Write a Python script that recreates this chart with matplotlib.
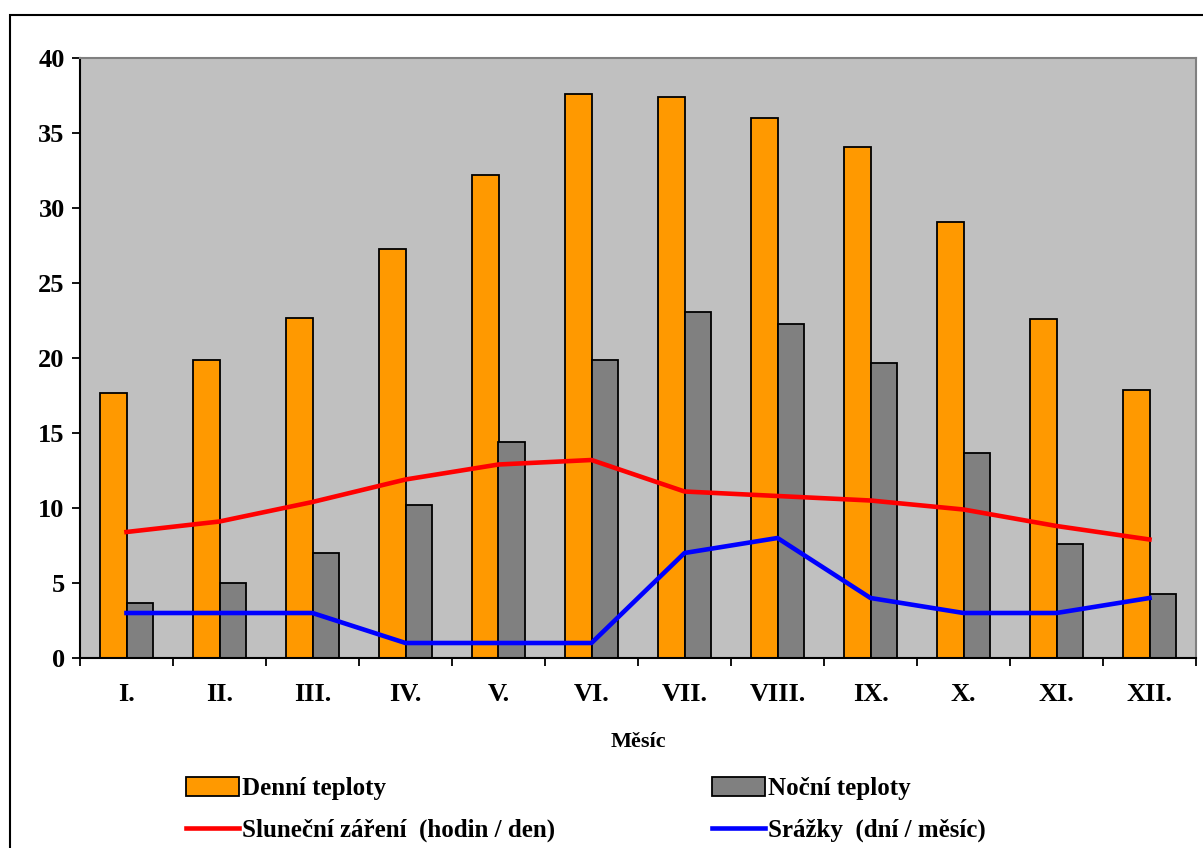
import numpy as np
import matplotlib.pyplot as plt
from matplotlib.patches import Rectangle

# Měsíce a klimatické údaje
mesice = ['I.', 'II.', 'III.', 'IV.', 'V.', 'VI.', 'VII.', 'VIII.', 'IX.', 'X.', 'XI.', 'XII.']
denni = [17.7, 19.9, 22.7, 27.3, 32.2, 37.6, 37.4, 36.0, 34.1, 29.1, 22.6, 17.9]
nocni = [3.7, 5.0, 7.0, 10.2, 14.4, 19.9, 23.1, 22.3, 19.7, 13.7, 7.6, 4.3]
slunce = [8.4, 9.1, 10.4, 11.9, 12.9, 13.2, 11.1, 10.8, 10.5, 9.9, 8.8, 7.9]
srazky = [3, 3, 3, 1, 1, 1, 7, 8, 4, 3, 3, 4]

plt.rcParams['font.family'] = ['Liberation Serif', 'DejaVu Serif']
plt.rcParams['font.weight'] = 'bold'

fig = plt.figure(figsize=(12.03, 8.48), dpi=100)
ax = fig.add_axes([80 / 1203, 1 - 658 / 848, 1116 / 1203, 600 / 848])
ax.set_facecolor('#C0C0C0')

# Rámeček kolem celého grafu
fig.patches.append(Rectangle((10 / 1203, -0.1), 1.2, 1 - 15 / 848 + 0.1,
                             transform=fig.transFigure, fill=False,
                             edgecolor='black', linewidth=1.5))

x = np.arange(len(mesice))
w = 0.29
b1 = ax.bar(x - w / 2, denni, w, color='#FF9900', edgecolor='black', linewidth=1.3, zorder=2)
b2 = ax.bar(x + w / 2, nocni, w, color='#808080', edgecolor='black', linewidth=1.3, zorder=2)
l1, = ax.plot(x, slunce, color='#FF0000', linewidth=3.3, zorder=3)
l2, = ax.plot(x, srazky, color='#0000FF', linewidth=3.3, zorder=3)

ax.set_xlim(-0.5, 11.5)
ax.set_ylim(0, 40)
ax.set_yticks(range(0, 41, 5))
ax.set_xticks(x)
ax.set_xticklabels(mesice, fontsize=19, fontweight='bold')
ax.set_xticks(np.arange(-0.5, 12, 1), minor=True)
ax.tick_params(axis='x', which='major', length=0, pad=18)
ax.tick_params(axis='x', which='minor', length=6, width=1.3, direction='out')
ax.tick_params(axis='y', length=6, width=1.3, direction='out', labelsize=19, pad=5)
for lab in ax.get_yticklabels():
    lab.set_fontweight('bold')

ax.spines['left'].set_linewidth(1.5)
ax.spines['bottom'].set_linewidth(1.5)
ax.spines['top'].set_color('#808080')
ax.spines['right'].set_color('#808080')
ax.spines['top'].set_linewidth(1.5)
ax.spines['right'].set_linewidth(1.5)

ax.set_xlabel('Měsíc', fontsize=16, fontweight='bold', labelpad=19)

leg = fig.legend([b1, l1, b2, l2],
                 ['Denní teploty', 'Sluneční záření  (hodin / den)',
                  'Noční teploty', 'Srážky  (dní / měsíc)'],
                 ncol=2, loc='upper left', bbox_to_anchor=(173 / 1203, 1 - 764 / 848),
                 frameon=False, fontsize=18, handlelength=2.15, handleheight=0.8,
                 handletextpad=0.12, columnspacing=6.25, labelspacing=0.75, borderpad=0)
for t in leg.get_texts():
    t.set_fontweight('bold')

fig.savefig('out.png', dpi=100)
